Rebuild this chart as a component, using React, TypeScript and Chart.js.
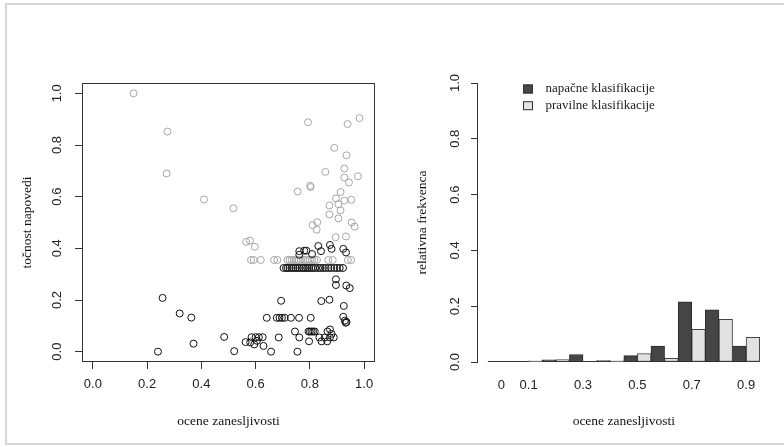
import React, { useEffect, useRef } from "react";
import { Chart, registerables } from "chart.js";

Chart.register(...registerables);

// ---------- data ----------
const seriesNames = ["napačne klasifikacije", "pravilne klasifikacije"];
const scatterXTitle = "ocene zanesljivosti";
const scatterYTitle = "točnost napovedi";
const histXTitle = "ocene zanesljivosti";
const histYTitle = "relativna frekvenca";

const scatterTicks = [0, 0.2, 0.4, 0.6, 0.8, 1.0];
const freqTicks = [0, 0.2, 0.4, 0.6, 0.8, 1.0];

// wrong classifications (black circles)
const wrongX = [
  0.257, 0.32, 0.363, 0.371, 0.24, 0.484, 0.521, 0.563,
  0.585, 0.6, 0.612, 0.626, 0.58, 0.595, 0.605, 0.629,
  0.657, 0.685, 0.694, 0.641,
  0.678, 0.688, 0.697, 0.707, 0.73, 0.76, 0.803,
  0.745, 0.761, 0.754, 0.795, 0.8, 0.806, 0.812, 0.818, 0.797,
  0.835, 0.843, 0.855, 0.865, 0.874, 0.88, 0.874, 0.888, 0.864,
  0.842, 0.872, 0.896, 0.896, 0.934, 0.947, 0.925,
  0.923, 0.929, 0.935, 0.932,
  0.761, 0.761, 0.779, 0.787, 0.808, 0.831, 0.841, 0.874, 0.88, 0.923, 0.933,
  0.703, 0.712, 0.718, 0.725, 0.733, 0.74, 0.748, 0.755, 0.762, 0.77, 0.776,
  0.783, 0.79, 0.797, 0.805, 0.812, 0.82, 0.83, 0.838, 0.848, 0.858, 0.868,
  0.878, 0.89, 0.9, 0.91, 0.922,
];
const wrongY = [
  0.208, 0.148, 0.132, 0.031, 0.0, 0.057, 0.002, 0.037,
  0.056, 0.056, 0.056, 0.056, 0.036, 0.028, 0.042, 0.022,
  0.0, 0.055, 0.197, 0.131,
  0.131, 0.131, 0.131, 0.131, 0.131, 0.131, 0.131,
  0.078, 0.055, 0.0, 0.078, 0.078, 0.078, 0.078, 0.078, 0.04,
  0.055, 0.04, 0.055, 0.078, 0.086, 0.069, 0.055, 0.055, 0.04,
  0.196, 0.201, 0.28, 0.258, 0.256, 0.246, 0.177,
  0.135, 0.12, 0.115, 0.112,
  0.389, 0.375, 0.391, 0.391, 0.378, 0.409, 0.389, 0.413, 0.398, 0.398, 0.384,
  0.324, 0.324, 0.324, 0.324, 0.324, 0.324, 0.324, 0.324, 0.324, 0.324, 0.324,
  0.324, 0.324, 0.324, 0.324, 0.324, 0.324, 0.324, 0.324, 0.324, 0.324, 0.324,
  0.324, 0.324, 0.324, 0.324, 0.324,
];

// correct classifications (grey circles)
const correctX = [
  0.15, 0.275, 0.272, 0.41, 0.518,
  0.793, 0.939, 0.983, 0.89, 0.935, 0.857, 0.927, 0.927, 0.944, 0.977,
  0.801, 0.803, 0.755, 0.913, 0.896, 0.927, 0.953, 0.872, 0.905, 0.913,
  0.872, 0.905, 0.827, 0.81, 0.825, 0.954, 0.965, 0.895, 0.933,
  0.565, 0.579, 0.597,
  0.583, 0.593, 0.619, 0.668, 0.68, 0.717, 0.725, 0.733, 0.742, 0.75, 0.758,
  0.766, 0.775, 0.783, 0.792, 0.8, 0.808, 0.817, 0.826, 0.868, 0.884, 0.94, 0.952,
];
const correctY = [
  1.0, 0.852, 0.69, 0.589, 0.555,
  0.888, 0.881, 0.904, 0.789, 0.76, 0.696, 0.709, 0.674, 0.655, 0.679,
  0.642, 0.637, 0.62, 0.618, 0.593, 0.585, 0.588, 0.566, 0.571, 0.547,
  0.531, 0.516, 0.501, 0.49, 0.472, 0.5, 0.484, 0.443, 0.446,
  0.425, 0.43, 0.406,
  0.355, 0.355, 0.355, 0.355, 0.355, 0.355, 0.355, 0.355, 0.355, 0.355, 0.355,
  0.355, 0.355, 0.355, 0.355, 0.355, 0.355, 0.355, 0.355, 0.355, 0.355, 0.355, 0.355,
];

// histogram (relative frequencies per confidence bin)
const binLabels = ["0", "0.1", "0.2", "0.3", "0.4", "0.5", "0.6", "0.7", "0.8", "0.9"];
const shownBinLabels = ["0", "0.1", "0.3", "0.5", "0.7", "0.9"];
const wrongFreq = [0, 0, 0.008, 0.027, 0.005, 0.023, 0.057, 0.216, 0.187, 0.057];
const correctFreq = [0, 0.004, 0.009, 0, 0.004, 0.03, 0.013, 0.117, 0.153, 0.088];

// ---------- styles ----------
const SANS = "'Liberation Sans', Arial, Helvetica, sans-serif";
const SERIF = "'Liberation Serif', 'Times New Roman', serif";
const INK = "#222";

const framePlugin = {
  id: "frame",
  afterDatasetsDraw(chart: any) {
    const { ctx, chartArea } = chart;
    const l = Math.round(chartArea.left) + 0.5;
    const t = Math.round(chartArea.top) + 0.5;
    const r = Math.round(chartArea.right) - 0.5;
    const b = Math.round(chartArea.bottom) - 0.5;
    ctx.save();
    ctx.strokeStyle = "#333";
    ctx.lineWidth = 1;
    ctx.strokeRect(l, t, r - l, b - t);
    ctx.restore();
  },
};

const baselinePlugin = {
  id: "baseline",
  beforeDatasetsDraw(chart: any) {
    const { ctx, scales } = chart;
    const y = Math.round(scales.y.getPixelForValue(0)) - 0.5;
    const x0 = scales.x.getPixelForValue(-0.5);
    const x1 = scales.x.getPixelForValue(binLabels.length - 0.5);
    ctx.save();
    ctx.strokeStyle = "#333";
    ctx.lineWidth = 1;
    ctx.beginPath();
    ctx.moveTo(x0, y);
    ctx.lineTo(x1, y);
    ctx.stroke();
    ctx.restore();
  },
};

const boxLegendPlugin = {
  id: "boxLegend",
  afterDraw(chart: any) {
    const { ctx, chartArea } = chart;
    const x0 = chartArea.left + 46;
    const y0 = chartArea.top + 1.5;
    ctx.save();
    chart.data.datasets.forEach((ds: any, i: number) => {
      const y = y0 + i * 16.7;
      ctx.fillStyle = ds.backgroundColor;
      ctx.fillRect(x0, y, 10, 9);
      ctx.strokeStyle = "#333";
      ctx.lineWidth = 1;
      ctx.strokeRect(x0 + 0.5, y + 0.5, 9, 8);
      ctx.fillStyle = INK;
      ctx.font = `13px ${SERIF}`;
      ctx.textAlign = "left";
      ctx.textBaseline = "middle";
      ctx.fillText(ds.label, x0 + 22.5, y + 4.5);
    });
    ctx.restore();
  },
};

function ScatterPanel() {
  const ref = useRef<HTMLCanvasElement | null>(null);
  useEffect(() => {
    const chart = new Chart(ref.current as HTMLCanvasElement, {
      type: "scatter",
      data: {
        datasets: [
          {
            label: seriesNames[0],
            data: wrongX.map((x, i) => ({ x, y: wrongY[i] })),
            borderColor: "#111",
            backgroundColor: "rgba(0,0,0,0)",
            pointRadius: 3.5,
            pointHoverRadius: 3.5,
            pointBorderWidth: 1,
          },
          {
            label: seriesNames[1],
            data: correctX.map((x, i) => ({ x, y: correctY[i] })),
            borderColor: "#a6a6a6",
            backgroundColor: "rgba(0,0,0,0)",
            pointRadius: 3.5,
            pointHoverRadius: 3.5,
            pointBorderWidth: 1,
          },
        ],
      },
      options: {
        animation: false,
        responsive: false,
        devicePixelRatio: 1,
        events: [],
        layout: { padding: { left: 0, top: 83, right: 17, bottom: 0 } },
        plugins: { legend: { display: false }, tooltip: { enabled: false } },
        scales: {
          x: {
            type: "linear",
            min: -0.04,
            max: 1.04,
            afterBuildTicks: (s: any) => {
              s.ticks = scatterTicks.map((v) => ({ value: v }));
            },
            afterFit: (s: any) => {
              s.height = 85;
            },
            grid: { display: true, drawOnChartArea: false, drawTicks: true, tickLength: 7, color: "#333" },
            border: { display: false },
            ticks: {
              autoSkip: false,
              maxRotation: 0,
              padding: 8,
              color: INK,
              font: { family: SANS, size: 13 },
              callback: (v: any) => Number(v).toFixed(1),
            },
            title: {
              display: true,
              text: scatterXTitle,
              color: "#111",
              font: { family: SERIF, size: 13.5 },
              padding: { top: 0, bottom: 17 },
            },
          },
          y: {
            type: "linear",
            min: -0.04,
            max: 1.04,
            afterBuildTicks: (s: any) => {
              s.ticks = scatterTicks.map((v) => ({ value: v }));
            },
            afterFit: (s: any) => {
              s.width = 82;
            },
            grid: { display: true, drawOnChartArea: false, drawTicks: true, tickLength: 7, color: "#333" },
            border: { display: false },
            ticks: {
              minRotation: 90,
              maxRotation: 90,
              crossAlign: "center",
              padding: 9,
              color: INK,
              font: { family: SANS, size: 13 },
              callback: (v: any) => Number(v).toFixed(1),
            },
            title: {
              display: true,
              text: scatterYTitle,
              color: "#111",
              font: { family: SERIF, size: 13.5 },
              padding: { top: 19, bottom: 0 },
            },
          },
        },
      } as any,
      plugins: [framePlugin],
    });
    return () => chart.destroy();
  }, []);
  return <canvas ref={ref} width={392} height={447} style={{ position: "absolute", left: 0, top: 0 }} />;
}

function HistogramPanel() {
  const ref = useRef<HTMLCanvasElement | null>(null);
  useEffect(() => {
    const chart = new Chart(ref.current as HTMLCanvasElement, {
      type: "bar",
      data: {
        datasets: [
          {
            label: seriesNames[0],
            data: wrongFreq.map((y, i) => ({ x: i, y })),
            backgroundColor: "#454545",
            borderColor: "#2a2a2a",
            borderWidth: 1,
            borderSkipped: false,
            categoryPercentage: 1,
            barPercentage: 1,
          },
          {
            label: seriesNames[1],
            data: correctFreq.map((y, i) => ({ x: i, y })),
            backgroundColor: "#e2e2e2",
            borderColor: "#444",
            borderWidth: 1,
            borderSkipped: false,
            categoryPercentage: 1,
            barPercentage: 1,
          },
        ],
      },
      options: {
        animation: false,
        responsive: false,
        devicePixelRatio: 1,
        events: [],
        layout: { padding: { left: 0, top: 83, right: 13.4, bottom: 0 } },
        plugins: { legend: { display: false }, tooltip: { enabled: false } },
        scales: {
          x: {
            type: "linear",
            offset: false,
            min: -0.9,
            max: binLabels.length - 0.1,
            afterBuildTicks: (s: any) => {
              s.ticks = binLabels.map((_, i) => ({ value: i }));
            },
            afterFit: (s: any) => {
              s.height = 85;
            },
            grid: { display: false, drawTicks: false },
            border: { display: false },
            ticks: {
              autoSkip: false,
              maxRotation: 0,
              padding: 16,
              color: INK,
              font: { family: SANS, size: 13 },
              callback: (v: any) => {
                const l = binLabels[Math.round(Number(v))];
                return shownBinLabels.includes(l) ? l : "";
              },
            },
            title: {
              display: true,
              text: histXTitle,
              color: "#111",
              font: { family: SERIF, size: 13.5 },
              padding: { top: 0, bottom: 17 },
            },
          },
          y: {
            type: "linear",
            min: 0,
            max: 1,
            afterBuildTicks: (s: any) => {
              s.ticks = freqTicks.map((v) => ({ value: v }));
            },
            afterFit: (s: any) => {
              s.width = 85;
            },
            grid: { display: true, drawOnChartArea: false, drawTicks: true, tickLength: 6, color: "#333" },
            border: { display: true, color: "#333" },
            ticks: {
              minRotation: 90,
              maxRotation: 90,
              crossAlign: "center",
              padding: 7,
              color: INK,
              font: { family: SANS, size: 13 },
              callback: (v: any) => Number(v).toFixed(1),
            },
            title: {
              display: true,
              text: histYTitle,
              color: "#111",
              font: { family: SERIF, size: 13.5 },
              padding: { top: 22, bottom: 0 },
            },
          },
        },
      } as any,
      plugins: [baselinePlugin, boxLegendPlugin],
    });
    return () => chart.destroy();
  }, []);
  return <canvas ref={ref} width={392} height={447} style={{ position: "absolute", left: 392, top: 0 }} />;
}

export default function App() {
  return (
    <div
      style={{
        position: "fixed",
        left: 0,
        top: 0,
        width: 784,
        height: 447,
        background: "#fff",
        overflow: "hidden",
      }}
    >
      <div
        style={{
          position: "absolute",
          left: 5,
          top: 3,
          width: 800,
          height: 442,
          boxSizing: "border-box",
          border: "2px solid #d6d6d6",
        }}
      />
      <ScatterPanel />
      <HistogramPanel />
    </div>
  );
}
